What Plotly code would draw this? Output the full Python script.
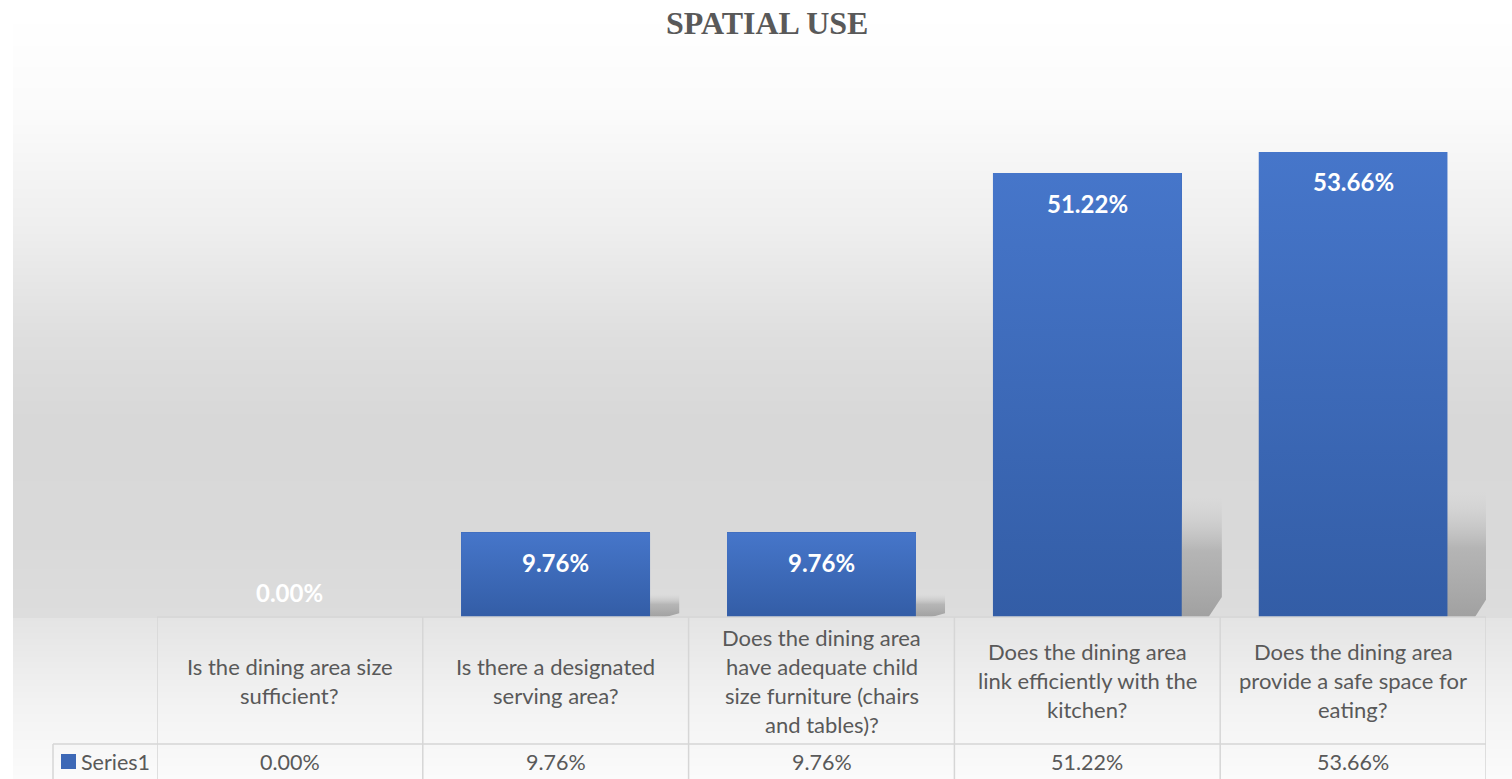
import base64
import struct
import zlib

import numpy as np
import plotly.graph_objects as go

# ---- data -------------------------------------------------------------
categories = [
    "Is the dining area size sufficient?",
    "Is there a designated serving area?",
    "Does the dining area have adequate child size furniture (chairs and tables)?",
    "Does the dining area link efficiently with the kitchen?",
    "Does the dining area provide a safe space for eating?",
]
category_lines = [
    ["Is the dining area size", "sufficient?"],
    ["Is there a designated", "serving area?"],
    ["Does the dining area", "have adequate child", "size furniture (chairs", "and tables)?"],
    ["Does the dining area", "link efficiently with the", "kitchen?"],
    ["Does the dining area", "provide a safe space for", "eating?"],
]
values = [0.00, 9.76, 9.76, 51.22, 53.66]
series_name = "Series1"
title_text = "SPATIAL USE"

# ---- page geometry (pixels) ------------------------------------------
W, H = 1512, 779
PLOT_L, PLOT_R = 157, 1486
PLOT_T, PLOT_B = 97, 617
TABLE_ROW = 744
LEGEND_COL = 53
Y_MAX = 60
BAR_W = 0.71

TEXT_GREY = "#595959"
GRID = "#d6d6d6"
BAR_TOP = "#4676ca"
BAR_BOTTOM = "#335da6"
HEADER_FONT = 22
ROW_FONT = 21.5

# vertical grey ramp of the chart area: (pixel row, grey level)
BG_STOPS_Y = [13, 120, 230, 340, 420, 540, 617, 618, 700, 779]
BG_STOPS_G = [255, 250, 238, 222, 216, 217, 221, 228, 242, 251]


def px_to_paper_x(px):
    return (px - PLOT_L) / (PLOT_R - PLOT_L)


def px_to_paper_y(py):
    return (PLOT_B - py) / (PLOT_B - PLOT_T)


# ---- chart-area background image --------------------------------------
def background_png():
    x0, y0 = 13, 13
    w, h = W - x0, H - y0
    ys = np.arange(h) + y0
    col = np.interp(ys, BG_STOPS_Y, BG_STOPS_G)
    g = np.repeat(col[:, None], w, axis=1)
    g = np.clip(np.round(g), 0, 255).astype(np.uint8)
    raw = b"".join(b"\x00" + g[r].tobytes() for r in range(h))

    def chunk(tag, data):
        c = struct.pack(">I", len(data)) + tag + data
        return c + struct.pack(">I", zlib.crc32(tag + data) & 0xFFFFFFFF)

    png = b"\x89PNG\r\n\x1a\n"
    png += chunk(b"IHDR", struct.pack(">IIBBBBB", w, h, 8, 0, 0, 0, 0))
    png += chunk(b"IDAT", zlib.compress(raw, 9))
    png += chunk(b"IEND", b"")
    return "data:image/png;base64," + base64.b64encode(png).decode(), (x0, y0, w, h)


bg_src, (bx, by, bw, bh) = background_png()

fig = go.Figure()

# ---- soft perspective shadows behind the bars ------------------------
for i, v in enumerate(values):
    if v <= 0:
        continue
    xr = i + BAR_W / 2
    dx = 0.10 + 0.001 * v
    hs = 0.27 * v
    cut = 0.045 * v
    fig.add_trace(go.Scatter(
        x=[i, xr + dx - 0.05, xr + dx, xr + dx, i, i],
        y=[0, 0, cut, hs, hs, 0],
        mode="lines", line=dict(width=0), fill="toself",
        fillgradient=dict(type="vertical", start=0, stop=hs,
                          colorscale=[[0, "rgba(150,150,150,0.85)"],
                                      [0.55, "rgba(165,165,165,0.7)"],
                                      [1, "rgba(200,200,200,0)"]]),
        hoverinfo="skip", showlegend=False,
    ))

# ---- bars -------------------------------------------------------------
fig.add_trace(go.Bar(
    x=list(range(len(values))), y=values, width=BAR_W, name=series_name,
    marker=dict(color="#3d68b6", line=dict(width=0)),
    customdata=categories, hovertemplate="%{customdata}<br>%{y:.2f}%<extra></extra>",
    showlegend=False,
))
# vertical gradient fill on top of each bar
for i, v in enumerate(values):
    if v <= 0:
        continue
    xl, xr = i - BAR_W / 2, i + BAR_W / 2
    fig.add_trace(go.Scatter(
        x=[xl, xr, xr, xl, xl], y=[0, 0, v, v, 0],
        mode="lines", line=dict(width=0), fill="toself",
        fillgradient=dict(type="vertical", start=0, stop=v,
                          colorscale=[[0, BAR_BOTTOM], [1, BAR_TOP]]),
        hoverinfo="skip", showlegend=False,
    ))

annotations = []

# ---- data labels ------------------------------------------------------
for i, v in enumerate(values):
    annotations.append(dict(
        x=i, y=v, xref="x", yref="y", text=f"{v:.2f}%", showarrow=False,
        yanchor="middle", yshift=(25 if v == 0 else -30),
        font=dict(family="Lato", size=24, color="white", weight="bold"),
    ))

# ---- data table: header text ----------------------------------------
LINE_H = 29
header_mid = (PLOT_B + TABLE_ROW) / 2
for i, lines in enumerate(category_lines):
    n = len(lines)
    for k, line in enumerate(lines):
        py = header_mid + (k - (n - 1) / 2) * LINE_H
        annotations.append(dict(
            x=i, y=px_to_paper_y(py), xref="x", yref="paper", text=line,
            showarrow=False, xanchor="center", yanchor="middle",
            font=dict(family="Lato", size=HEADER_FONT, color=TEXT_GREY),
        ))

# ---- data table: value row ------------------------------------------
row_mid = 762
for i, v in enumerate(values):
    annotations.append(dict(
        x=i, y=px_to_paper_y(row_mid), xref="x", yref="paper", text=f"{v:.2f}%",
        showarrow=False, xanchor="center", yanchor="middle",
        font=dict(family="Lato", size=ROW_FONT, color=TEXT_GREY),
    ))
annotations.append(dict(
    x=px_to_paper_x(79), y=px_to_paper_y(row_mid), xref="paper", yref="paper",
    text=series_name, showarrow=False, xanchor="left", yanchor="middle",
    font=dict(family="Lato", size=ROW_FONT, color=TEXT_GREY),
))

# ---- title ------------------------------------------------------------
annotations.append(dict(
    x=px_to_paper_x(767), y=px_to_paper_y(23), xref="paper", yref="paper",
    text=f"<b>{title_text}</b>", showarrow=False, xanchor="center", yanchor="middle",
    font=dict(family="Liberation Serif", size=32, color=TEXT_GREY),
))

# ---- table grid lines -------------------------------------------------
shapes = []
line_style = dict(color=GRID, width=1.5)
y_top = px_to_paper_y(PLOT_B)
y_row = px_to_paper_y(TABLE_ROW)
y_bot = px_to_paper_y(H + 2)
shapes.append(dict(type="line", xref="paper", yref="paper", x0=0, x1=1,
                   y0=y_top, y1=y_top, line=line_style))
shapes.append(dict(type="line", xref="paper", yref="paper",
                   x0=px_to_paper_x(LEGEND_COL), x1=1, y0=y_row, y1=y_row, line=line_style))
for b in range(len(values) + 1):
    xb = b - 0.5
    shapes.append(dict(type="line", xref="x", yref="paper", x0=xb, x1=xb,
                       y0=y_top, y1=y_bot, line=line_style))
shapes.append(dict(type="line", xref="paper", yref="paper",
                   x0=px_to_paper_x(LEGEND_COL), x1=px_to_paper_x(LEGEND_COL),
                   y0=y_row, y1=y_bot, line=line_style))
# legend key square
shapes.append(dict(type="rect", xref="paper", yref="paper",
                   x0=px_to_paper_x(61), x1=px_to_paper_x(76),
                   y0=px_to_paper_y(769), y1=px_to_paper_y(754),
                   fillcolor="#3d68b6", line=dict(width=0)))

fig.update_layout(
    width=W, height=H, autosize=False,
    margin=dict(l=PLOT_L, r=W - PLOT_R, t=PLOT_T, b=H - PLOT_B, pad=0),
    paper_bgcolor="white", plot_bgcolor="rgba(0,0,0,0)",
    showlegend=False, bargap=0,
    xaxis=dict(range=[-0.5, len(values) - 0.5], visible=False, fixedrange=True),
    yaxis=dict(range=[0, Y_MAX], visible=False, fixedrange=True),
    annotations=annotations, shapes=shapes,
    images=[dict(source=bg_src, xref="paper", yref="paper",
                 x=px_to_paper_x(bx), y=px_to_paper_y(by),
                 sizex=bw / (PLOT_R - PLOT_L), sizey=bh / (PLOT_B - PLOT_T),
                 xanchor="left", yanchor="top", sizing="stretch", layer="below")],
)

fig.write_html("out.html", config={"displayModeBar": False})
